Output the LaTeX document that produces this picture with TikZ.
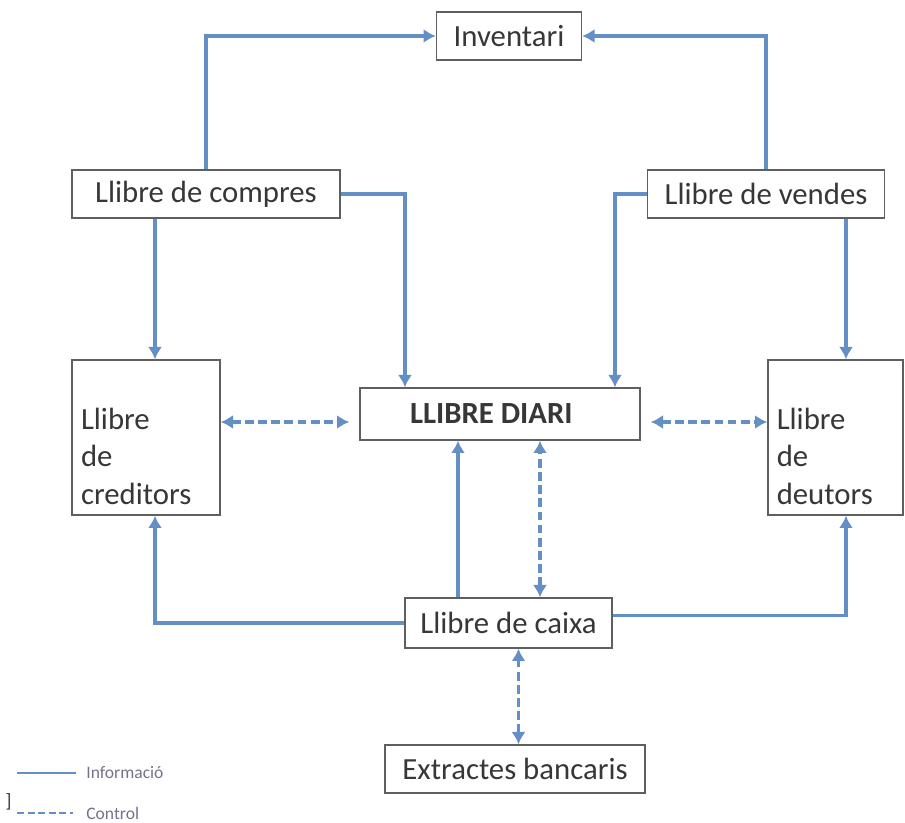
\documentclass[tikz,border=0pt]{standalone}
\usepackage{fontspec}
\setmainfont{Carlito}
\usetikzlibrary{arrows.meta,positioning}
\definecolor{lineblue}{RGB}{100,143,198}
\definecolor{boxgray}{RGB}{95,95,95}
\definecolor{txtgray}{RGB}{55,55,55}
\tikzset{
	box/.style={draw=boxgray, line width=0.8pt, fill=white, text=txtgray,
		font=\fontsize{17.5}{21.5}\selectfont, inner sep=0pt},
	tallbox/.style={box, minimum height=3.1cm, align=left, text height=1.18cm},
	info/.style={draw=lineblue, line width=1.9pt, -{Latex[length=7pt,width=8pt]}},
	ctrl/.style={draw=lineblue, line width=1.9pt, dash pattern=on 5pt off 2.5pt,
		{Latex[length=7pt,width=8pt]}-{Latex[length=7pt,width=8pt]}},
	legtext/.style={text=gray!90!blue, font=\fontsize{10}{12}\selectfont, anchor=west, inner sep=0pt}
}
\begin{document}
\begin{tikzpicture}
	\useasboundingbox (0,0) rectangle (18.1,16.46);
	% Draw the books
	\node[box, minimum width=2.9cm, minimum height=0.96cm]  (inv)   at (10.18,15.74) {Inventari};
	\node[box, minimum width=5.36cm, minimum height=0.96cm] (comp)  at (4.12,12.58)  {Llibre de compres};
	\node[box, minimum width=4.74cm, minimum height=0.96cm] (vend)  at (15.32,12.58) {Llibre de vendes};
	\node[box, minimum width=5.6cm, minimum height=1.04cm, font=\fontsize{17.5}{21.5}\selectfont\bfseries]
		(diari) at (10.0,8.18) {LLIBRE DIARI\hspace*{0.35cm}};
	\node[tallbox, minimum width=2.96cm, text width=2.6cm]  (cred)  at (2.92,7.71)  {Llibre\\de\\creditors};
	\node[tallbox, minimum width=2.7cm, text width=2.35cm]  (deut)  at (16.71,7.71) {Llibre\\de\\deutors};
	\node[box, minimum width=4.14cm, minimum height=1.0cm]  (caixa) at (10.17,4.0)   {Llibre de caixa};
	\node[box, minimum width=5.2cm, minimum height=0.96cm]  (ext)   at (10.3,1.08)   {Extractes bancaris};
	% Columns and rows the lines run along
	\coordinate (lft) at (3.1,0);
	\coordinate (rgt) at (16.92,0);
	\coordinate (mid) at (0,8.02);
	% Information flow
	\draw[info] (comp.north) |- (inv.west);
	\draw[info] (vend.north) |- (inv.east);
	\draw[info] (comp.east) -| ([xshift=-1.9cm]diari.north);
	\draw[info] (vend.west) -| ([xshift=2.3cm]diari.north);
	\draw[info] (comp.south -| lft) -- (cred.north -| lft);
	\draw[info] (vend.south -| rgt) -- (deut.north -| rgt);
	\draw[info] ([xshift=-1.01cm]caixa.north) -- ([xshift=-1.01cm]caixa.north |- diari.south);
	\draw[info] (caixa.west) -| (cred.south -| lft);
	\draw[info] ([yshift=1.5mm]caixa.east) -| (deut.south -| rgt);
	% Control
	\draw[ctrl, shorten >=2mm] (cred.east |- mid) -- (diari.west |- mid);
	\draw[ctrl, shorten <=2mm] (diari.east |- mid) -- (deut.west |- mid);
	\draw[ctrl] ([xshift=0.63cm]caixa.north) -- ([xshift=0.63cm]caixa.north |- diari.south);
	\draw[ctrl] ([xshift=0.07cm]ext.north) -- ([xshift=0.07cm]ext.north |- caixa.south);
	% Legend
	\node[legtext] (linfo) at (1.72,1.0)  {Informació};
	\node[legtext] (lctrl) at (1.72,0.2) {Control};
	\coordinate (linfo0) at (0.34,1.0);
	\coordinate (lctrl0) at (0.34,0.2);
	\draw[draw=lineblue, line width=1.6pt] (linfo0) -- ([xshift=-2mm]linfo.west);
	\draw[draw=lineblue, line width=1.6pt, dash pattern=on 4pt off 2pt] (lctrl0) -- ([xshift=-2.6mm]lctrl.west);
	\node[text=txtgray, font=\fontsize{11}{12}\selectfont, inner sep=0pt] (brk) at (0.17,0.42) {]};
\end{tikzpicture}
\end{document}
